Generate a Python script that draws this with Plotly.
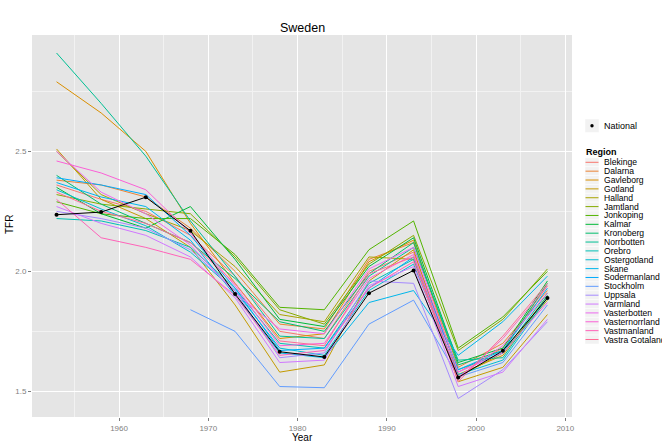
import math
import plotly.graph_objects as go

# ---------------- data ----------------
years = [1953, 1958, 1963, 1968, 1973, 1978, 1983, 1988, 1993, 1998, 2003, 2008]

national = [2.236, 2.247, 2.309, 2.169, 1.906, 1.665, 1.643, 1.909, 2.004, 1.558, 1.669, 1.889]

regions = ["Blekinge", "Dalarna", "Gavleborg", "Gotland", "Halland", "Jamtland", "Jonkoping",
           "Kalmar", "Kronoberg", "Norrbotten", "Orebro", "Ostergotland", "Skane", "Sodermanland",
           "Stockholm", "Uppsala", "Varmland", "Vasterbotten", "Vasternorrland", "Vastmanland",
           "Vastra Gotaland"]

blekinge = [2.36, 2.30, 2.25, 2.15, 1.98, 1.75, 1.72, 2.00, 2.08, 1.58, 1.68, 1.94]
dalarna = [2.38, 2.36, 2.31, 2.18, 2.00, 1.78, 1.76, 2.05, 2.12, 1.60, 1.70, 1.92]
gavleborg = [2.79, 2.66, 2.50, 2.20, 1.95, 1.72, 1.74, 2.04, 2.13, 1.57, 1.65, 1.90]
gotland = [2.51, 2.30, 2.22, 2.10, 1.86, 1.58, 1.61, 1.96, 2.09, 1.54, 1.60, 1.82]
halland = [2.50, 2.32, 2.24, 2.17, 2.02, 1.82, 1.79, 2.06, 2.05, 1.56, 1.66, 1.88]
jamtland = [2.32, 2.28, 2.26, 2.24, 2.06, 1.84, 1.78, 2.03, 2.15, 1.67, 1.80, 2.01]
jonkoping = [2.29, 2.24, 2.22, 2.22, 2.07, 1.85, 1.84, 2.09, 2.21, 1.68, 1.81, 2.00]
kalmar = [2.35, 2.24, 2.18, 2.27, 2.05, 1.80, 1.77, 2.02, 2.14, 1.62, 1.68, 1.96]
kronoberg = [2.40, 2.28, 2.20, 2.12, 1.97, 1.79, 1.75, 1.99, 2.12, 1.61, 1.67, 1.95]
norrbotten = [2.91, 2.70, 2.48, 2.21, 1.98, 1.73, 1.72, 1.98, 2.10, 1.63, 1.64, 1.90]
orebro = [2.22, 2.21, 2.17, 2.10, 1.93, 1.70, 1.68, 1.95, 2.05, 1.59, 1.66, 1.91]
ostergotland = [2.34, 2.26, 2.19, 2.08, 1.92, 1.68, 1.65, 1.92, 2.03, 1.57, 1.63, 1.89]
skane = [2.37, 2.31, 2.27, 2.13, 1.90, 1.66, 1.64, 1.87, 1.92, 1.65, 1.79, 1.98]
sodermanland = [2.39, 2.36, 2.32, 2.15, 1.93, 1.67, 1.68, 1.93, 2.06, 1.59, 1.67, 1.93]
stockholm = [None, None, None, 1.84, 1.75, 1.52, 1.515, 1.78, 1.88, 1.56, 1.62, 1.86]
uppsala = [2.25, 2.22, 2.18, 2.09, 1.92, 1.64, 1.66, 1.96, 1.95, 1.47, 1.59, 1.79]
varmland = [2.27, 2.20, 2.15, 2.06, 1.89, 1.62, 1.63, 1.94, 2.02, 1.52, 1.58, 1.80]
vasterbotten = [2.50, 2.33, 2.24, 2.11, 1.91, 1.76, 1.74, 2.01, 2.10, 1.58, 1.66, 1.87]
vasternorrland = [2.46, 2.41, 2.34, 2.16, 1.94, 1.69, 1.70, 1.97, 2.07, 1.56, 1.69, 1.91]
vastmanland = [2.30, 2.14, 2.10, 2.05, 1.90, 1.65, 1.67, 1.93, 2.04, 1.55, 1.72, 1.94]
vastra_gotaland = [2.33, 2.25, 2.20, 2.12, 1.95, 1.71, 1.69, 1.99, 2.06, 1.54, 1.73, 1.95]

region_values = [blekinge, dalarna, gavleborg, gotland, halland, jamtland, jonkoping, kalmar,
                 kronoberg, norrbotten, orebro, ostergotland, skane, sodermanland, stockholm,
                 uppsala, varmland, vasterbotten, vasternorrland, vastmanland, vastra_gotaland]

x_ticks = [1960, 1970, 1980, 1990, 2000, 2010]
y_ticks = [1.5, 2.0, 2.5]


# ---------------- colours (ggplot2 hue palette) ----------------
def hcl_to_hex(h, c=100.0, l=65.0):
    hr = math.radians(h)
    u, v = c * math.cos(hr), c * math.sin(hr)
    Xn, Yn, Zn = 95.047, 100.0, 108.883
    den = Xn + 15 * Yn + 3 * Zn
    un, vn = 4 * Xn / den, 9 * Yn / den
    Y = Yn * ((l + 16) / 116) ** 3
    up, vp = u / (13 * l) + un, v / (13 * l) + vn
    X = 9.0 * Y * up / (4 * vp)
    Z = -X / 3 - 5 * Y + 3 * Y / vp
    X, Y, Z = X / 100, Y / 100, Z / 100
    rgb = [3.240479 * X - 1.537150 * Y - 0.498535 * Z,
           -0.969256 * X + 1.875992 * Y + 0.041556 * Z,
           0.055648 * X - 0.204043 * Y + 1.057311 * Z]
    out = []
    for t in rgb:
        t = 12.92 * t if t <= 0.0031308 else 1.055 * t ** (1 / 2.4) - 0.055
        out.append(int(round(max(0, min(1, t)) * 255)))
    return "#%02X%02X%02X" % tuple(out)


n = len(regions)
colors = [hcl_to_hex(15 + 360 * i / n) for i in range(n)]

FONT = "Liberation Sans, Arial, sans-serif"

fig = go.Figure()
for name, vals, col in zip(regions, region_values, colors):
    fig.add_trace(go.Scatter(x=years, y=vals, mode="lines", name=name,
                             line=dict(color=col, width=1), showlegend=False))
fig.add_trace(go.Scatter(x=years, y=national, mode="lines+markers", name="National",
                         line=dict(color="black", width=1),
                         marker=dict(color="black", size=4), showlegend=False))

# plot area in pixels
W, H = 662, 446
L, R, T, B = 32, 572, 35, 417


def px(xp):
    return (xp - L) / (R - L)


def py(yp):
    return (B - yp) / (B - T)


fig.update_layout(
    width=W, height=H,
    margin=dict(l=L, r=W - R, t=T, b=H - B),
    paper_bgcolor="white", plot_bgcolor="#E5E5E5",
    font=dict(family=FONT),
    xaxis=dict(range=[1950.25, 2010.75], tickvals=x_ticks, showgrid=True, gridcolor="white",
               gridwidth=1, zeroline=False, showline=False, ticks="outside", ticklen=3,
               tickcolor="#7F7F7F", tickfont=dict(size=8, color="#7F7F7F"),
               minor=dict(dtick=5, tick0=1955, showgrid=True, gridcolor="#F2F2F2", gridwidth=0.6)),
    yaxis=dict(range=[1.393, 2.985], tickvals=y_ticks, tickformat=".1f", showgrid=True,
               gridcolor="white", gridwidth=1, zeroline=False, showline=False, ticks="outside",
               ticklen=3, tickcolor="#7F7F7F", tickfont=dict(size=8, color="#7F7F7F"),
               minor=dict(dtick=0.25, tick0=1.25, showgrid=True, gridcolor="#F2F2F2", gridwidth=0.6)),
    showlegend=False,
)

annotations = [
    dict(text="Sweden", x=0.5, y=py(28), xref="paper", yref="paper", showarrow=False,
         font=dict(size=12.5, color="black"), xanchor="center", yanchor="middle"),
    dict(text="Year", x=0.5, y=py(437), xref="paper", yref="paper", showarrow=False,
         font=dict(size=10, color="black"), xanchor="center", yanchor="middle"),
    dict(text="TFR", x=px(9), y=py(225), xref="paper", yref="paper", showarrow=False,
         textangle=-90, font=dict(size=10, color="black"), xanchor="center", yanchor="middle"),
]
shapes = []

# legend: National
shapes.append(dict(type="rect", xref="paper", yref="paper", x0=px(585), x1=px(599),
                   y0=py(132.5), y1=py(119), fillcolor="#F2F2F2", line=dict(color="white", width=0.5),
                   layer="above"))
shapes.append(dict(type="circle", xref="paper", yref="paper", x0=px(590.3), x1=px(593.7),
                   y0=py(127.4), y1=py(124.0), fillcolor="black", line=dict(color="black", width=0),
                   layer="above"))
annotations.append(dict(text="National", x=px(602), y=py(126), xref="paper", yref="paper",
                        showarrow=False, font=dict(size=9, color="black"),
                        xanchor="left", yanchor="middle"))
annotations.append(dict(text="<b>Region</b>", x=px(584), y=py(151.5), xref="paper", yref="paper",
                        showarrow=False, font=dict(size=9, color="black"),
                        xanchor="left", yanchor="middle"))

step = 8.86
y0 = 162.3
for i, (name, col) in enumerate(zip(regions, colors)):
    yc = y0 + i * step
    shapes.append(dict(type="rect", xref="paper", yref="paper", x0=px(585), x1=px(599),
                       y0=py(yc + step / 2), y1=py(yc - step / 2), fillcolor="#F2F2F2",
                       line=dict(color="white", width=0.5), layer="above"))
    shapes.append(dict(type="line", xref="paper", yref="paper", x0=px(585.5), x1=px(598.5),
                       y0=py(yc), y1=py(yc), line=dict(color=col, width=1), layer="above"))
    annotations.append(dict(text=name, x=px(602), y=py(yc), xref="paper", yref="paper",
                            showarrow=False, font=dict(size=8.6, color="black"),
                            xanchor="left", yanchor="middle"))

fig.update_layout(annotations=annotations, shapes=shapes)
fig.write_html("out.html")
